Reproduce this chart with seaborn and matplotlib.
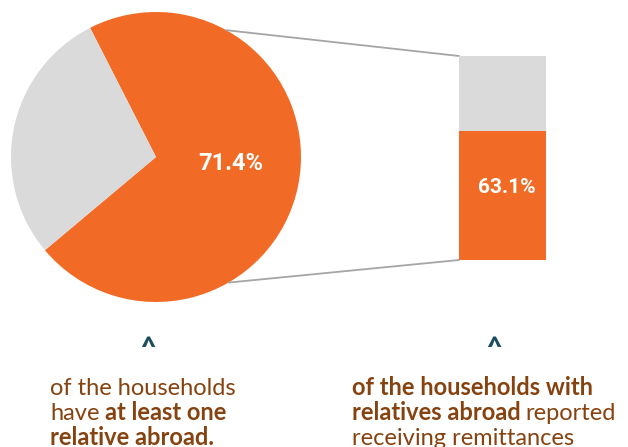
import matplotlib
matplotlib.use("Agg")
import matplotlib.pyplot as plt
import numpy as np
import pandas as pd
import seaborn as sns

# data
pie_labels = ["Has relative abroad", "No relative abroad"]
pie_values = [71.4, 28.6]
bar_labels = ["Receives remittances", "Does not"]
bar_values = [63.1, 36.9]

left_caption = [
    [("of the households", "normal")],
    [("have", "normal"), ("at least one", "bold")],
    [("relative abroad.", "bold")],
]
right_caption = [
    [("of the households with", "bold")],
    [("relatives abroad", "bold"), ("reported", "normal")],
    [("receiving remittances", "normal")],
]

ORANGE = "#f26b26"
GRAY = "#d9dad9"
LINE = "#a5a5a5"
BROWN = "#86420f"
TEAL = "#1d4e5f"

W, H = 628, 447

sns.set_theme(style="white")
plt.rcParams["font.family"] = ["Lato", "DejaVu Sans"]

fig = plt.figure(figsize=(W / 100, H / 100), dpi=100)
ax = fig.add_axes([0, 0, 1, 1])

# pie
cx, cy, r = 156, H - 157, 145
ax.pie(pie_values, colors=[ORANGE, GRAY], startangle=220, counterclock=True,
       center=(cx, cy), radius=r, wedgeprops=dict(linewidth=0))
ax.set_xlim(0, W)
ax.set_ylim(0, H)
ax.set_aspect("auto")
ax.axis("off")
ax.text(231, H - 163, f"{pie_values[0]}%", color="white", fontsize=17,
        fontweight="bold", family=["Roboto", "DejaVu Sans"],
        ha="center", va="center")

# stacked bar
bx0, bx1, by0, by1 = 459, 546, 56, 260
bax = fig.add_axes([bx0 / W, (H - by1) / H, (bx1 - bx0) / W, (by1 - by0) / H])
df = pd.DataFrame({"group": ["remit"], "total": [sum(bar_values)], "yes": [bar_values[0]]})
sns.barplot(data=df, x="group", y="total", color=GRAY, width=1, saturation=1,
            linewidth=0, ax=bax)
sns.barplot(data=df, x="group", y="yes", color=ORANGE, width=1, saturation=1,
            linewidth=0, ax=bax)
bax.set_xlim(-0.5, 0.5)
bax.set_ylim(0, sum(bar_values))
bax.axis("off")
bax.text(0.05, bar_values[0] * 0.56, f"{bar_values[0]}%", color="white", fontsize=15,
         fontweight="bold", family=["Roboto", "DejaVu Sans"],
         ha="center", va="center")

# connector lines
a1, a2 = np.deg2rad(61), np.deg2rad(-60)
ax.plot([cx + r * np.cos(a1), bx0], [cy + r * np.sin(a1), H - by0], color=LINE, lw=1.3)
ax.plot([cx + r * np.cos(a2), bx0], [cy + r * np.sin(a2), H - by1], color=LINE, lw=1.3)

# carets
for x in (148, 494):
    ax.text(x, H - 348, "^", color=TEAL, fontsize=19, fontweight="heavy",
            ha="center", va="center")

# captions
renderer = fig.canvas.get_renderer()
FS = 17


def draw_caption(x0, y0, lines):
    for i, segs in enumerate(lines):
        x = x0
        y = H - (y0 + i * 25)
        for txt, weight in segs:
            t = ax.text(x, y, txt, color=BROWN, fontsize=FS, fontweight=weight,
                        ha="left", va="baseline")
            bb = t.get_window_extent(renderer)
            x += bb.width + FS * 0.3


draw_caption(50, 395, left_caption)
draw_caption(352, 395, right_caption)

fig.savefig("out.png", dpi=100)
